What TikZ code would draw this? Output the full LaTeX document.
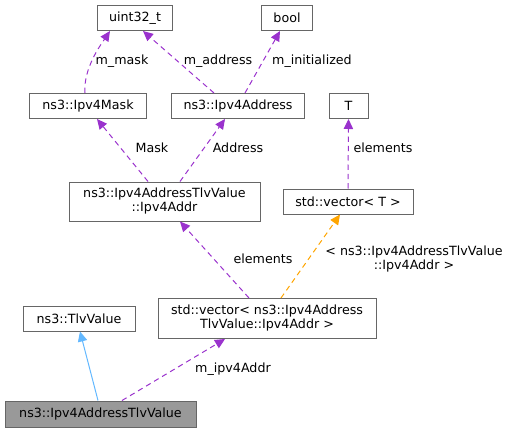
\documentclass[tikz,border=0pt]{standalone}
\usepackage{fontspec}
\setmainfont{DejaVu Sans}
\usetikzlibrary{arrows.meta,calc}
\definecolor{edgepurple}{HTML}{9A32CD}
\definecolor{edgeorange}{HTML}{FFA500}
\definecolor{edgeblue}{HTML}{63B8FF}
\definecolor{boxgray}{HTML}{666666}
\definecolor{fillgray}{HTML}{999999}
\tikzset{
  x=0.75pt, y=-0.75pt,
  every node/.style={font=\fontsize{9.5}{10.5}\selectfont, inner sep=0pt},
  cls/.style={draw=boxgray, line width=0.75pt, fill=white, align=center},
  lbl/.style={align=center},
  dep/.style={edgepurple, line width=0.75pt, dash pattern=on 4pt off 3pt,
    -{Triangle[length=7.5pt,width=7pt]}},
  tmpl/.style={edgeorange, line width=0.75pt, dash pattern=on 4pt off 3pt,
    -{Triangle[length=7.5pt,width=7pt]}},
  inh/.style={edgeblue, line width=0.75pt,
    -{Triangle[length=7.5pt,width=7pt]}},
}
\begin{document}
\begin{tikzpicture}
\useasboundingbox (0,0) rectangle (511,432);
\node[cls, minimum width=75*0.75pt, minimum height=25*0.75pt] (u) at (135,18) {uint32\_t};
\node[cls, minimum width=51*0.75pt, minimum height=25*0.75pt] (b) at (287,18) {bool};
\node[cls, minimum width=117*0.75pt, minimum height=25*0.75pt] (mask) at (88,106) {ns3::Ipv4Mask};
\node[cls, minimum width=133*0.75pt, minimum height=25*0.75pt] (addr) at (238,106) {ns3::Ipv4Address};
\node[cls, minimum width=39*0.75pt, minimum height=25*0.75pt] (T) at (348.5,106) {T};
\node[cls, minimum width=191*0.75pt, minimum height=39*0.75pt] (ia) at (164.5,201.5) {ns3::Ipv4AddressTlvValue\\::Ipv4Addr};
\node[cls, minimum width=130*0.75pt, minimum height=25*0.75pt] (vt) at (348,201.5) {std::vector< T >};
\node[cls, minimum width=218*0.75pt, minimum height=40*0.75pt] (vn) at (267,318.5) {std::vector< ns3::Ipv4Address\\TlvValue::Ipv4Addr >};
\node[cls, minimum width=112*0.75pt, minimum height=25*0.75pt] (tlv) at (79,318.5) {ns3::TlvValue};
\node[cls, fill=fillgray, minimum width=191*0.75pt, minimum height=26*0.75pt] (main) at (100.5,414) {ns3::Ipv4AddressTlvValue};

\draw[dep] ($(mask.north)+(-3,0)$) .. controls +(-2,-25) and +(-8,12) .. ($(u.south)+(-25,0)$);
\draw[dep] ($(addr.north)+(-24,0)$) -- ($(u.south)+(8,0)$);
\draw[dep] ($(addr.north)+(7,0)$) -- ($(b.south)+(-7,0)$);
\draw[dep] ($(ia.north)+(-16.5,0)$) -- ($(mask.south)+(9,0)$);
\draw[dep] ($(ia.north)+(15.5,0)$) -- ($(addr.south)+(-13,0)$);
\draw[dep] (vt.north) -- (T.south);
\draw[dep] ($(vn.north)+(-18,0)$) -- ($(ia.south)+(15.5,0)$);
\draw[tmpl] ($(vn.north)+(14,0)$) -- ($(vt.south)+(-8,0)$);
\draw[inh] ($(main.north)+(-2.5,0)$) -- ($(tlv.south)+(1,0)$);
\draw[dep] ($(main.north)+(21.5,0)$) -- ($(vn.south)+(-42,0)$);

\node[lbl] (l1) at (122,61) {m\_mask};
\node[lbl] (l2) at (218,61) {m\_address};
\node[lbl] (l3) at (312,61) {m\_initialized};
\node[lbl] (l4) at (152,148) {Mask};
\node[lbl] (l5) at (238,148) {Address};
\node[lbl] (l6) at (383,148) {elements};
\node[lbl] (l7) at (263,259) {elements};
\node[lbl] (l8) at (414,259) {< ns3::Ipv4AddressTlvValue\\::Ipv4Addr >};
\node[lbl] (l9) at (233,369) {m\_ipv4Addr};
\end{tikzpicture}
\end{document}
